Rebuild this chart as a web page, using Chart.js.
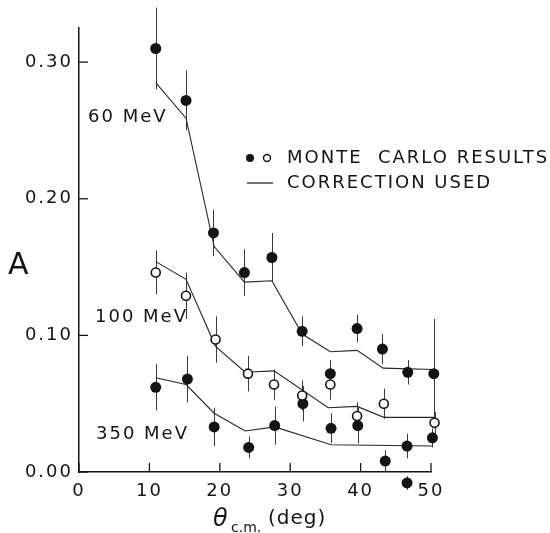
<!DOCTYPE html>
<html>
<head>
<meta charset="utf-8">
<script src="https://cdn.jsdelivr.net/npm/chart.js@4.4.0/dist/chart.umd.min.js"></script>
<style>
  html, body { margin: 0; padding: 0; background: #fff; }
  #wrap { width: 550px; height: 533px; }
</style>
</head>
<body>
<div id="wrap"><canvas id="chart" width="550" height="533"></canvas></div>
<script>
// ── データ ────────────────────────────────────────────
const xTicks = [0, 10, 20, 30, 40, 50];
const yTicks = [0, 0.1, 0.2, 0.3];

// 60 MeV (●)
const theta60 = [10.9, 15.2, 19.1, 23.5, 27.4, 31.7, 35.7, 39.5, 43.1, 46.7, 50.4];
const a60     = [0.310, 0.272, 0.175, 0.146, 0.157, 0.103, 0.072, 0.105, 0.090, 0.073, 0.072];
const err60   = [0.030, 0.022, 0.017, 0.017, 0.018, 0.011, 0.010, 0.010, 0.011, 0.009, 0.040];

// 100 MeV (○)
const theta100 = [10.9, 15.2, 19.4, 24.0, 27.7, 31.7, 35.7, 39.5, 43.3, 50.5];
const a100     = [0.146, 0.129, 0.097, 0.072, 0.064, 0.056, 0.064, 0.041, 0.050, 0.036];
const err100   = [0.016, 0.017, 0.017, 0.013, 0.011, 0.011, 0.011, 0.010, 0.011, 0.008];

// 350 MeV (●)
const theta350 = [10.9, 15.4, 19.2, 24.1, 27.8, 31.8, 35.8, 39.6, 43.5, 46.6, 46.6, 50.2];
const a350     = [0.062, 0.068, 0.033, 0.018, 0.034, 0.050, 0.032, 0.034, 0.008, 0.019, -0.008, 0.025];
const err350   = [0.017, 0.017, 0.014, 0.008, 0.014, 0.013, 0.011, 0.013, 0.008, 0.009, 0.005, 0.007];

// correction used (lines)
const corrTheta60 = [10.9, 15.2, 19.2, 23.5, 27.4, 31.7, 35.7, 39.5, 43.2, 50.4];
const corr60      = [0.285, 0.259, 0.165, 0.139, 0.140, 0.101, 0.088, 0.089, 0.076, 0.075];
const corrTheta100 = [10.9, 15.2, 19.4, 23.6, 27.7, 35.4, 39.5, 43.3, 50.4];
const corr100      = [0.154, 0.141, 0.092, 0.073, 0.074, 0.047, 0.048, 0.040, 0.040];
const corrTheta350 = [10.9, 15.2, 19.2, 23.6, 27.8, 35.8, 50.2];
const corr350      = [0.069, 0.064, 0.043, 0.030, 0.033, 0.020, 0.019];

const INK = '#141414';
const FONT = '"DejaVu Sans", sans-serif';

function pts(xs, ys) {
  return xs.map((x, i) => ({ x, y: ys[i] }));
}

function lineSet(xs, ys) {
  return {
    type: 'scatter', showLine: true, data: pts(xs, ys),
    borderColor: '#262626', borderWidth: 1.1, pointRadius: 0, tension: 0, clip: false, order: 2,
  };
}

function markSet(xs, ys, open) {
  return {
    type: 'scatter', data: pts(xs, ys), clip: false, order: 1,
    pointRadius: open ? 4.5 : 5.5,
    pointBackgroundColor: open ? '#fff' : INK,
    pointBorderColor: INK,
    pointBorderWidth: open ? 1.6 : 0,
  };
}

// ── 誤差棒・目盛り・注記 ────────────────────────────────
const errSets = [
  [theta60, a60, err60],
  [theta100, a100, err100],
  [theta350, a350, err350],
];

const decor = {
  id: 'decor',
  beforeDraw(chart) {
    // tick labels of the original are widely spaced
    chart.ctx.letterSpacing = '2px';
  },
  beforeDatasetsDraw(chart) {
    const { ctx, scales: { x, y } } = chart;
    ctx.save();
    ctx.strokeStyle = '#3a3a3a';
    ctx.lineWidth = 1;
    errSets.forEach(([xs, ys, es]) => {
      xs.forEach((t, i) => {
        const px = Math.round(x.getPixelForValue(t)) + 0.5;
        ctx.beginPath();
        ctx.moveTo(px, y.getPixelForValue(ys[i] + es[i]));
        ctx.lineTo(px, y.getPixelForValue(ys[i] - es[i]));
        ctx.stroke();
      });
    });
    ctx.restore();
  },
  afterDatasetsDraw(chart) {
    const { ctx, chartArea, scales: { x, y } } = chart;
    ctx.save();
    // points lying below the axis (Chart.js skips them)
    const full = { left: 0, top: 0, right: chart.width, bottom: chart.height };
    chart.getSortedVisibleDatasetMetas().forEach(meta => {
      meta.data.forEach(el => {
        if (el.y > chartArea.bottom + 4) el.draw(ctx, full);
      });
    });

    // inward tick marks
    ctx.strokeStyle = INK;
    ctx.lineWidth = 1.3;
    xTicks.forEach(t => {
      const px = x.getPixelForValue(t);
      ctx.beginPath(); ctx.moveTo(px, y.bottom); ctx.lineTo(px, y.bottom - 9); ctx.stroke();
    });
    yTicks.forEach(v => {
      const py = y.getPixelForValue(v);
      ctx.beginPath(); ctx.moveTo(x.left, py); ctx.lineTo(x.left + 9, py); ctx.stroke();
    });

    ctx.fillStyle = INK;
    ctx.textBaseline = 'middle';
    ctx.textAlign = 'left';
    ctx.letterSpacing = '2px';
    ctx.font = '18px ' + FONT;
    ctx.fillText('60 MeV', 88, 117);
    ctx.fillText('100 MeV', 95, 317);
    ctx.fillText('350 MeV', 96, 434);

    // legend
    ctx.beginPath(); ctx.arc(250, 158, 4, 0, Math.PI * 2); ctx.fill();
    ctx.beginPath(); ctx.arc(267, 158, 3.5, 0, Math.PI * 2);
    ctx.lineWidth = 1.4; ctx.stroke();
    ctx.beginPath(); ctx.moveTo(247, 183); ctx.lineTo(273, 183);
    ctx.lineWidth = 1.2; ctx.stroke();
    ctx.fillText('MONTE  CARLO RESULTS', 287, 158);
    ctx.fillText('CORRECTION USED', 287, 183);

    // axis titles
    ctx.letterSpacing = '0px';
    ctx.font = '30px ' + FONT;
    ctx.fillText('A', 8, 266);
    ctx.font = 'italic 24px ' + FONT;
    ctx.fillText('θ', 213, 520);
    ctx.font = '14px ' + FONT;
    ctx.fillText('c.m.', 231, 528);
    ctx.font = '20px ' + FONT;
    ctx.letterSpacing = '1px';
    ctx.fillText('(deg)', 268, 519);
    ctx.restore();
  }
};

// ── グラフ ────────────────────────────────────────────
Chart.defaults.font.family = FONT;
Chart.defaults.font.size = 18;
Chart.defaults.color = INK;

new Chart(document.getElementById('chart').getContext('2d'), {
  type: 'scatter',
  data: {
    datasets: [
      lineSet(corrTheta60, corr60),
      lineSet(corrTheta100, corr100),
      lineSet(corrTheta350, corr350),
      markSet(theta60, a60, false),
      markSet(theta100, a100, true),
      markSet(theta350, a350, false),
    ]
  },
  options: {
    responsive: false,
    animation: false,
    events: [],
    layout: { padding: { top: 28, right: 119, bottom: 0, left: 0 } },
    plugins: { legend: { display: false }, tooltip: { enabled: false } },
    scales: {
      x: {
        type: 'linear', min: 0, max: 50,
        afterBuildTicks: s => { s.ticks = xTicks.map(v => ({ value: v })); },
        afterFit: s => { s.height = 61; },
        grid: { display: false, drawTicks: false },
        border: { display: true, color: INK, width: 1.5 },
        ticks: { padding: 9, maxRotation: 0, callback: v => String(v) },
      },
      y: {
        type: 'linear', min: 0, max: 0.325,
        afterBuildTicks: s => { s.ticks = yTicks.map(v => ({ value: v })); },
        afterFit: s => { s.width = 79; },
        grid: { display: false, drawTicks: false },
        border: { display: true, color: INK, width: 1.5 },
        ticks: { padding: 6, callback: v => v.toFixed(2) },
      }
    }
  },
  plugins: [decor]
});
</script>
</body>
</html>
